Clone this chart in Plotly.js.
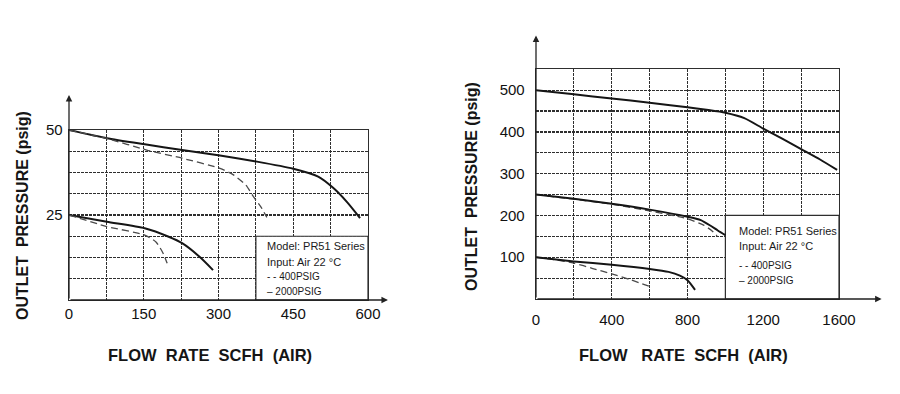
<!DOCTYPE html>
<html>
<head>
<meta charset="utf-8">
<script src="https://cdn.plot.ly/plotly-3.0.1.min.js"></script>
<style>html,body{margin:0;padding:0;background:#fff;}#chart{width:900px;height:394px;}</style>
</head>
<body>
<div id="chart"></div>
<script>
// ---------- Left chart (0-600 SCFH, 25 / 50 psig) ----------
const leftSolid50X = [0, 76, 152, 227, 303, 377, 450, 500, 530, 558, 584];
const leftSolid50Y = [50, 47.6, 45.8, 44.1, 42.5, 40.7, 38.6, 36.3, 33.0, 28.8, 24.1];
const leftDash50X  = [0, 76, 156, 227, 303, 330, 355, 370, 385, 397];
const leftDash50Y  = [50, 47.5, 44.1, 41.7, 38.7, 36.8, 33.8, 30.4, 27.4, 24.3];
const leftSolid25X = [0, 76, 152, 200, 227, 262, 289];
const leftSolid25Y = [25, 23, 21.1, 18.6, 16.7, 12.7, 8.8];
const leftDash25X  = [0, 76, 152, 175, 189, 197];
const leftDash25Y  = [25, 21.6, 19.1, 17, 13.7, 10.8];

const leftXTickVals = [0, 75, 150, 225, 300, 375, 450, 525, 600];
const leftXTickText = ['0', '', '150', '', '300', '', '450', '', '600'];
const leftYTickVals = [0, 6.25, 12.5, 18.75, 25, 31.25, 37.5, 43.75, 50];
const leftYTickText = ['', '', '', '', '25', '', '', '', '50'];

// ---------- Right chart (0-1600 SCFH, 100 / 250 / 500 psig) ----------
const rightSolid500X = [0, 200, 400, 600, 800, 900, 1000, 1100, 1200, 1300, 1400, 1500, 1590];
const rightSolid500Y = [500, 490, 480, 470, 459, 453, 446, 433, 408, 384, 359, 334, 309];
const rightSolid250X = [0, 200, 400, 600, 800, 870, 920, 960, 1000];
const rightSolid250Y = [250, 240, 228, 214, 197, 189, 176, 164, 153];
const rightDash250X  = [0, 200, 400, 600, 800, 885, 930, 956];
const rightDash250Y  = [250, 239, 227, 211, 192, 177, 163, 151];
const rightSolid100X = [0, 200, 400, 600, 700, 760, 800, 840];
const rightSolid100Y = [100, 90, 82, 72, 65, 56, 45, 22];
const rightDash100X  = [0, 100, 200, 300, 400, 500, 612];
const rightDash100Y  = [100, 94, 86, 73, 60, 46, 28];

const rightXTickVals = [0, 200, 400, 600, 800, 1000, 1200, 1400, 1600];
const rightXTickText = ['0', '', '400', '', '800', '', '1200', '', '1600'];
const rightYTickVals = [0, 50, 100, 150, 200, 250, 300, 350, 400, 450, 500, 550];
const rightYTickText = ['', '', '100', '', '200', '', '300', '', '400', '', '500', ''];

// ---------- Texts ----------
const yTitleLeft  = 'OUTLET\u00a0 PRESSURE (psig)';
const yTitleRight = 'OUTLET\u00a0 PRESSURE (psig)';
const xTitleLeft  = 'FLOW\u00a0 RATE\u00a0 SCFH\u00a0 (AIR)';
const xTitleRight = 'FLOW\u00a0\u00a0 RATE\u00a0 SCFH\u00a0 (AIR)';
const legendLines = ['Model: PR51 Series', 'Input: Air 22 °C', '- - 400PSIG', '\u2013 2000PSIG'];

const FONT = 'Liberation Sans, Arial, Helvetica, sans-serif';
const GRID = '#2e2e2e';
const INK = '#151515';

function solid(x, y, xa, ya) {
  return {x: x, y: y, xaxis: xa, yaxis: ya, mode: 'lines', type: 'scatter',
    line: {color: INK, width: 2, shape: 'spline', smoothing: 0.6}, hoverinfo: 'skip'};
}
function dashed(x, y, xa, ya) {
  return {x: x, y: y, xaxis: xa, yaxis: ya, mode: 'lines', type: 'scatter',
    line: {color: '#4a4a4a', width: 1.3, dash: '7px,4px', shape: 'spline', smoothing: 0.6}, hoverinfo: 'skip'};
}

const traces = [
  solid(leftSolid50X, leftSolid50Y, 'x', 'y'),
  dashed(leftDash50X, leftDash50Y, 'x', 'y'),
  solid(leftSolid25X, leftSolid25Y, 'x', 'y'),
  dashed(leftDash25X, leftDash25Y, 'x', 'y'),
  solid(rightSolid500X, rightSolid500Y, 'x2', 'y2'),
  dashed(rightDash250X, rightDash250Y, 'x2', 'y2'),
  solid(rightSolid250X, rightSolid250Y, 'x2', 'y2'),
  dashed(rightDash100X, rightDash100Y, 'x2', 'y2'),
  solid(rightSolid100X, rightSolid100Y, 'x2', 'y2')
];

function axis(extra) {
  return Object.assign({
    showgrid: true, gridcolor: GRID, gridwidth: 1.2, griddash: '3px,1px',
    zeroline: false, showline: true, mirror: true, linecolor: GRID, linewidth: 1.3,
    ticks: '', tickmode: 'array', fixedrange: true,
    tickfont: {family: FONT, size: 15, color: '#111'}
  }, extra);
}

const layout = {
  width: 900, height: 394,
  margin: {l: 0, r: 0, t: 0, b: 0},
  paper_bgcolor: '#fff', plot_bgcolor: '#fff',
  showlegend: false,
  font: {family: FONT, color: '#1a1a1a'},
  xaxis: axis({domain: [69/900, 368/900], range: [0, 600], tickvals: leftXTickVals, ticktext: leftXTickText, anchor: 'y', ticklabelstandoff: 0}),
  yaxis: axis({domain: [94/394, 264/394], range: [0, 50], tickvals: leftYTickVals, ticktext: leftYTickText, anchor: 'x', ticklabelstandoff: 2}),
  xaxis2: axis({domain: [536/900, 839/900], range: [0, 1600], tickvals: rightXTickVals, ticktext: rightXTickText, anchor: 'y2', ticklabelstandoff: 7}),
  yaxis2: axis({domain: [95/394, 324.7/394], range: [0, 550], tickvals: rightYTickVals, ticktext: rightYTickText, anchor: 'x2', ticklabelstandoff: 7}),
  shapes: [
    {type: 'rect', xref: 'x', yref: 'y', x0: 375, x1: 600, y0: 0, y1: 18.75, layer: 'between',
     fillcolor: '#fff', line: {color: GRID, width: 1.2}},
    {type: 'rect', xref: 'x2', yref: 'y2', x0: 1000, x1: 1600, y0: 0, y1: 200, layer: 'between',
     fillcolor: '#fff', line: {color: GRID, width: 1.2}}
  ],
  annotations: []
};

// axis arrows (extend beyond plot area)
function arrow(xr, yr, x, y) {
  return {xref: xr, yref: yr, axref: xr, ayref: yr, x: x, y: y, ax: 0, ay: 0, text: '',
    showarrow: true, arrowhead: 2, arrowsize: 1, arrowwidth: 1.3, arrowcolor: '#222', standoff: 0};
}
layout.annotations.push(arrow('x', 'y', 0, 60.3));
layout.annotations.push(arrow('x', 'y', 640, 0));
layout.annotations.push(arrow('x2', 'y2', 0, 631));
layout.annotations.push(arrow('x2', 'y2', 1825, 0));

function label(text, x, y, size, angle) {
  return {xref: 'paper', yref: 'paper', x: x, y: y, text: text, showarrow: false,
    textangle: angle || 0, xanchor: 'center', yanchor: 'middle',
    font: {family: FONT, size: size, color: '#151515', weight: 'bold'}};
}
layout.annotations.push(label('<b>' + yTitleLeft + '</b>', 22/900, (394-216)/394, 16, -90));
layout.annotations.push(label('<b>' + yTitleRight + '</b>', 471/900, (394-187)/394, 16, -90));
layout.annotations.push(label('<b>' + xTitleLeft + '</b>', 210/900, (394-355)/394, 16.5, 0));
layout.annotations.push(label('<b>' + xTitleRight + '</b>', 683.5/900, (394-355)/394, 16.5, 0));

function boxText(text, xpx, ypx, size) {
  return {xref: 'paper', yref: 'paper', x: xpx/900, y: (394-ypx)/394, text: text, showarrow: false,
    xanchor: 'left', yanchor: 'middle', font: {family: FONT, size: size, color: '#1a1a1a'}};
}
const leftBoxY = [246, 262, 276, 291];
const rightBoxY = [231, 246, 265, 280];
const boxSizes = [11, 11, 10, 10];
legendLines.forEach(function (t, i) {
  layout.annotations.push(boxText(t, 265, leftBoxY[i], boxSizes[i]));
  layout.annotations.push(boxText(t, 737, rightBoxY[i], boxSizes[i]));
});

Plotly.newPlot('chart', traces, layout, {staticPlot: true, displayModeBar: false});
</script>
</body>
</html>
